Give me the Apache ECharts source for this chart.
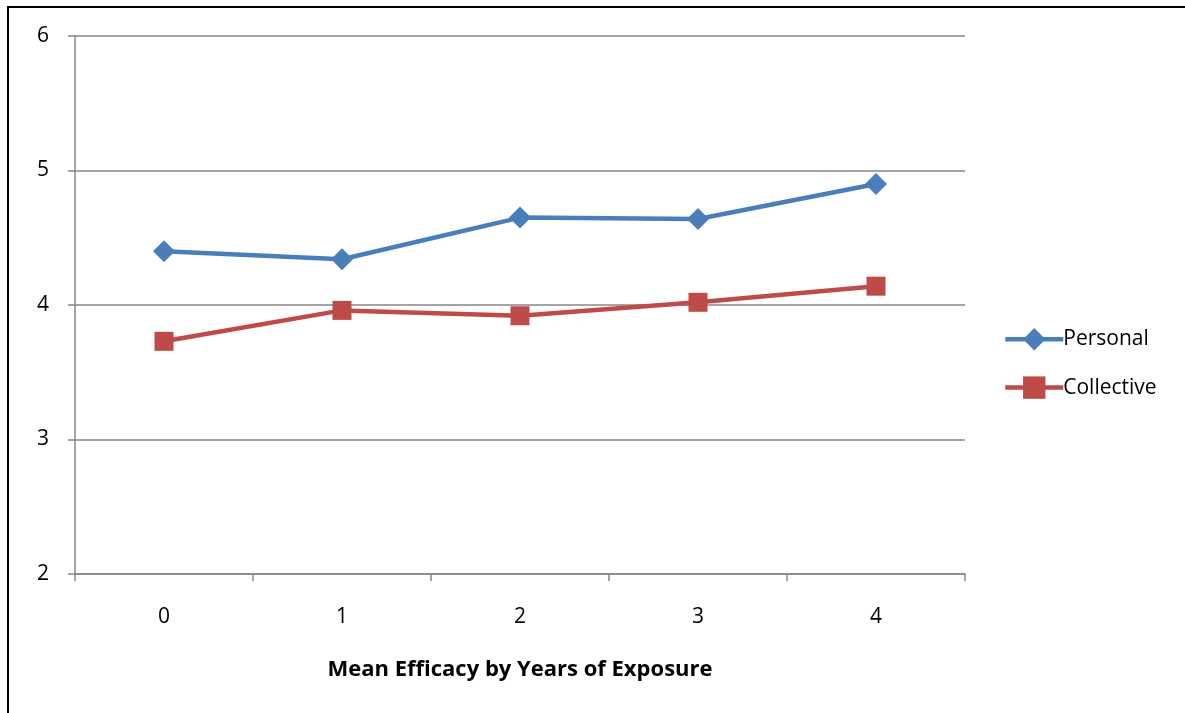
<!DOCTYPE html>
<html>
<head>
<meta charset="utf-8">
<script src="https://cdn.jsdelivr.net/npm/echarts@6/dist/echarts.min.js"></script>
<style>
  html, body { margin: 0; padding: 0; background: #fff; overflow: hidden; }
  #frame { position: absolute; left: 7px; top: 6px; width: 1300px; height: 900px; border: 2px solid #000; box-sizing: border-box; }
  #chart { position: absolute; left: 0; top: 0; width: 1185px; height: 713px; }
</style>
</head>
<body>
<div id="frame"></div>
<div id="chart"></div>
<script>
// Years of exposure and mean efficacy scores
const years = ['0', '1', '2', '3', '4'];
const personal = [4.40, 4.34, 4.65, 4.64, 4.90];
const collective = [3.73, 3.96, 3.92, 4.02, 4.14];
const axisTitle = 'Mean Efficacy by Years of Exposure';

const FONT = '"Open Sans", "Noto Sans", sans-serif';
const AXIS_GREY = '#868686';

const chart = echarts.init(document.getElementById('chart'), null, { renderer: 'canvas' });
chart.setOption({
  backgroundColor: 'transparent',
  animation: false,
  grid: { left: 75, right: 220, top: 36, bottom: 139, containLabel: false },
  legend: {
    orient: 'vertical',
    left: 998,
    top: 323,
    itemWidth: 58,
    itemHeight: 28,
    itemGap: 26,
    lineStyle: { width: 4.5 },
    textStyle: { fontFamily: FONT, fontSize: 21, color: '#000', padding: [0, 0, 0, -5] },
    data: ['Personal', 'Collective']
  },
  xAxis: {
    type: 'category',
    data: years,
    boundaryGap: true,
    name: axisTitle,
    nameLocation: 'middle',
    nameGap: 85,
    nameTextStyle: { fontFamily: FONT, fontSize: 22, fontWeight: 'bold', color: '#000' },
    axisLine: { lineStyle: { color: AXIS_GREY, width: 1.5 } },
    axisTick: { show: true, length: 7, alignWithLabel: false, lineStyle: { color: AXIS_GREY, width: 1.5 } },
    axisLabel: { fontFamily: FONT, fontSize: 21, color: '#000', margin: 33 },
    splitLine: { show: false }
  },
  yAxis: {
    type: 'value',
    min: 2,
    max: 6,
    interval: 1,
    axisLine: { show: true, lineStyle: { color: AXIS_GREY, width: 1.5 } },
    axisTick: { show: true, length: 7, lineStyle: { color: AXIS_GREY, width: 1.5 } },
    axisLabel: { fontFamily: FONT, fontSize: 21, color: '#000', margin: 26 },
    splitLine: { show: true, lineStyle: { color: AXIS_GREY, width: 1.5 } }
  },
  series: [
    {
      name: 'Personal',
      type: 'line',
      data: personal,
      symbol: 'diamond',
      symbolSize: 22,
      lineStyle: { color: '#4A7EBB', width: 4.5 },
      itemStyle: { color: '#4A7EBB' }
    },
    {
      name: 'Collective',
      type: 'line',
      data: collective,
      symbol: 'rect',
      symbolSize: 19,
      lineStyle: { color: '#BE4B48', width: 4.5 },
      itemStyle: { color: '#BE4B48' }
    }
  ]
});
</script>
</body>
</html>
